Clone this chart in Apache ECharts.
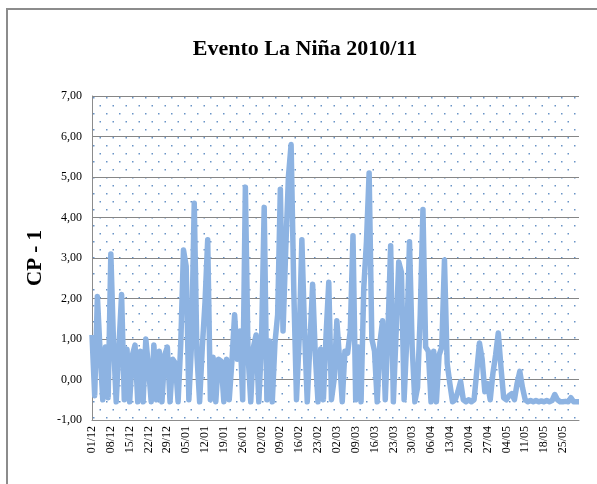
<!DOCTYPE html>
<html>
<head>
<meta charset="utf-8">
<script src="https://cdn.jsdelivr.net/npm/echarts@6/dist/echarts.min.js"></script>
<style>
  html, body { margin: 0; padding: 0; background: #fff; }
  #chart { width: 597px; height: 484px; }
</style>
</head>
<body>
<div id="chart"></div>
<script>
// 数据：2010/12/01 ~ 2011/05/31 每日 CP-1
var startDate = [2010, 11, 1];
var cp1 = [
  1.1, -0.4, 2.05, 0.7, -0.5, 0.8, -0.45, 3.1, 0.9, -0.55,
  0.8, 2.1, -0.5, 0.75, -0.55, 0.6, 0.85, -0.55, 0.7, -0.55,
  1.0, 0.3, -0.55, 0.85, -0.5, 0.7, -0.55, 0.6, 0.8, -0.55,
  0.5, 0.4, -0.55, 0.9, 3.2, 2.8, -0.5, 0.9, 4.35, 0.6,
  -0.55, 0.8, 1.9, 3.45, -0.5, 0.55, -0.55, 0.5, 0.45, -0.55,
  0.5, -0.5, 0.45, 1.6, 0.5, 1.2, -0.5, 4.75, 0.6, -0.55,
  0.8, 1.1, -0.55, 0.9, 4.25, -0.5, 0.95, -0.55, 0.9, 1.6,
  4.7, 1.2, 3.2, 5.0, 5.8, 2.2, -0.5, 1.0, 3.45, 1.2,
  -0.55, 0.9, 2.35, 0.6, -0.55, 0.75, -0.5, 1.1, 2.4, -0.5,
  0.0, 1.45, 0.5, -0.55, 0.7, 0.65, 1.2, 3.55, -0.5, 0.8,
  -0.55, 2.25, 3.4, 5.1, 1.0, 0.7, -0.55, 0.9, 1.45, -0.5,
  1.2, 3.3, -0.55, 1.1, 2.9, 2.65, -0.5, 1.0, 3.4, 0.8,
  -0.55, -0.2, 1.6, 4.2, 0.8, 0.7, -0.55, 0.7, -0.55, 0.6,
  0.8, 2.95, 0.4, -0.1, -0.55, -0.5, -0.3, -0.05, -0.5, -0.55,
  -0.5, -0.55, -0.5, 0.2, 0.9, 0.5, -0.3, -0.1, -0.5, 0.15,
  0.6, 1.15, 0.3, -0.45, -0.5, -0.4, -0.35, -0.5, -0.1, 0.2,
  -0.2, -0.5, -0.55, -0.52, -0.55, -0.52, -0.55, -0.53, -0.55, -0.52,
  -0.55, -0.52, -0.37, -0.5, -0.55, -0.55, -0.54, -0.55, -0.45, -0.55,
  -0.55, -0.55
];

// 日期类目 dd/mm
var days = [];
var d0 = new Date(startDate[0], startDate[1], startDate[2]);
for (var i = 0; i < cp1.length; i++) {
  var d = new Date(d0.getTime());
  d.setDate(d0.getDate() + i);
  var dd = ('0' + d.getDate()).slice(-2);
  var mm = ('0' + (d.getMonth() + 1)).slice(-2);
  days.push(dd + '/' + mm);
}

// 点状背景
var tile = document.createElement('canvas');
tile.width = 13; tile.height = 16;
var ctx = tile.getContext('2d');
ctx.fillStyle = 'rgba(79,129,189,0.85)';
ctx.fillRect(2, 1, 1.5, 1.5);
ctx.fillRect(8.5, 9, 1.5, 1.5);

var myChart = echarts.init(document.getElementById('chart'));

var option = {
  animation: false,
  title: {
    text: 'Evento La Niña 2010/11',
    left: 300,
    textAlign: 'center',
    top: 33,
    textStyle: {
      fontFamily: 'Liberation Serif',
      fontWeight: 'bold',
      fontSize: 22,
      color: '#000'
    }
  },
  graphic: [{
    type: 'rect',
    shape: { x: 7, y: 9, width: 610, height: 500 },
    style: { fill: 'none', stroke: '#8c8c8c', lineWidth: 2 },
    silent: true
  }],
  grid: {
    left: 92, right: 18, top: 96, bottom: 64,
    show: true,
    backgroundColor: { image: tile, repeat: 'repeat' },
    borderWidth: 0
  },
  xAxis: {
    type: 'category',
    data: days,
    boundaryGap: false,
    axisLine: { onZero: false, lineStyle: { color: '#8c8c8c', width: 1 } },
    axisTick: { show: false },
    axisLabel: {
      interval: 6,
      rotate: 90,
      margin: 6,
      fontFamily: 'Liberation Serif',
      fontSize: 12,
      color: '#000'
    },
    splitLine: { show: false }
  },
  yAxis: {
    type: 'value',
    min: -1,
    max: 7,
    interval: 1,
    name: 'CP - 1',
    nameLocation: 'middle',
    nameGap: 38,
    nameRotate: 90,
    nameTextStyle: {
      fontFamily: 'Liberation Serif',
      fontWeight: 'bold',
      fontSize: 21,
      color: '#000'
    },
    axisLine: { show: true, lineStyle: { color: '#8c8c8c', width: 1 } },
    axisTick: { show: false },
    axisLabel: {
      margin: 10,
      fontFamily: 'Liberation Serif',
      fontSize: 12,
      color: '#000',
      formatter: function (v) { return v.toFixed(2).replace('.', ','); }
    },
    splitLine: { show: true, lineStyle: { color: '#868686', width: 1 } }
  },
  series: [{
    name: 'CP - 1',
    type: 'line',
    data: cp1,
    symbol: 'none',
    lineStyle: { color: '#8db3e2', width: 5.5, join: 'round' }
  }]
};

myChart.setOption(option);
</script>
</body>
</html>
